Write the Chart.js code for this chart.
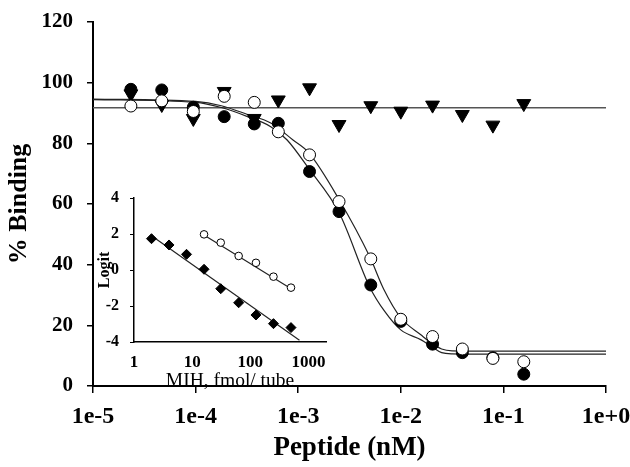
<!DOCTYPE html>
<html>
<head>
<meta charset="utf-8">
<script src="https://cdn.jsdelivr.net/npm/chart.js@4.4.1/dist/chart.umd.min.js"></script>
<style>
  html, body { margin: 0; padding: 0; background: #fff; }
  #wrap { position: relative; width: 630px; height: 467px; }
  #main { position: absolute; left: 0; top: 0; }
  #inset { position: absolute; left: 95px; top: 185px; }
</style>
</head>
<body>
<div id="wrap">
  <canvas id="main" width="630" height="467"></canvas>
  <canvas id="inset" width="240" height="210"></canvas>
</div>
<script>
// Main panel: % binding vs peptide concentration (nM)
const doses = [2.34e-5, 4.68e-5, 9.5e-5, 1.9e-4, 3.73e-4, 6.4e-4, 1.29e-3, 2.5e-3, 5.1e-3, 1.0e-2, 2.04e-2, 3.98e-2, 7.9e-2, 0.158];
const filledBinding = [97.8, 97.6, 91.9, 88.8, 86.4, 86.6, 70.7, 57.5, 33.3, 21.3, 13.8, 11.0, 9.3, 3.9];
const openBinding = [92.3, 94.0, 90.5, 95.5, 93.5, 83.8, 76.2, 60.8, 41.9, 22.0, 16.3, 12.2, 9.1, 8.0];
const triangleBinding = [96.3, 92.8, 88.2, 97.1, 88.2, 94.3, 98.3, 86.2, 92.4, 90.6, 92.6, 89.5, 86.0, 93.1];

// fitted curves
const openCurveX = [1e-5, 1e-4, 1.78e-4, 3.16e-4, 5.4e-4, 8.9e-4, 1.26e-3, 2.5e-3, 5e-3, 6.8e-3, 1e-2, 1.58e-2, 2e-2, 2.5e-2, 3.16e-2, 0.1, 1];
const openCurveY = [94.6, 93.8, 92.4, 89.6, 86.7, 81.1, 77.0, 61.5, 42.5, 32.0, 22.5, 16.8, 14.1, 12.2, 11.6, 11.5, 11.5];
const filledCurveX = [1e-5, 1e-4, 1.78e-4, 3.16e-4, 5.4e-4, 7.8e-4, 1.26e-3, 2.5e-3, 5e-3, 7e-3, 1e-2, 1.58e-2, 2e-2, 2.5e-2, 3.16e-2, 0.1, 1];
const filledCurveY = [94.4, 93.5, 91.8, 88.9, 85.5, 81.1, 71.8, 57.2, 32.5, 24.5, 18.5, 15.2, 13.0, 11.0, 10.6, 10.5, 10.5];
const flatLineX = [1e-5, 1];
const flatLineY = [91.7, 91.7];

const xTickValues = [1e-5, 1e-4, 1e-3, 1e-2, 1e-1, 1];
const xTickLabels = ['1e-5', '1e-4', '1e-3', '1e-2', '1e-1', '1e+0'];

// Inset: logit vs MIH, fmol/tube
const mihFilled = [2, 4, 8, 16, 31, 63, 125, 250, 500];
const logitFilled = [1.74, 1.39, 0.87, 0.04, -1.04, -1.82, -2.5, -2.98, -3.2];
const mihOpen = [16, 31, 63, 125, 250, 500];
const logitOpen = [1.98, 1.52, 0.78, 0.4, -0.37, -0.98];
const fitFilledX = [2, 700];
const fitFilledY = [1.9, -3.9];
const fitOpenX = [14, 520];
const fitOpenY = [2.05, -1.07];
const insetTickValues = [1, 10, 100, 1000];
const insetTickLabels = ['1', '10', '100', '1000'];

const SERIF = "'Liberation Serif', 'Times New Roman', serif";

function pairs(xs, ys) {
  return xs.map((x, i) => ({ x, y: ys[i] }));
}

function markerSet(data, style, radius, fill, rotation) {
  return {
    data,
    showLine: false,
    pointStyle: style,
    pointRadius: radius,
    pointRotation: rotation || 0,
    pointBackgroundColor: fill,
    pointBorderColor: '#000',
    pointBorderWidth: 1,
  };
}

function lineSet(data, color, width, smooth) {
  return {
    data,
    showLine: true,
    borderColor: color,
    borderWidth: width,
    pointRadius: 0,
    cubicInterpolationMode: smooth ? 'monotone' : 'default',
    tension: 0,
  };
}

// pin a scale's box size and drop the label overhang padding
function pinBox(size) {
  return (s) => {
    if (s.isHorizontal()) s.height = size; else s.width = size;
    s.paddingLeft = 0;
    s.paddingRight = 0;
    s.paddingTop = 0;
    s.paddingBottom = 0;
  };
}

Chart.defaults.font.family = SERIF;
Chart.defaults.color = '#000';

new Chart(document.getElementById('main'), {
  type: 'scatter',
  data: {
    datasets: [
      markerSet(pairs(doses, openBinding), 'circle', 6, '#fff'),
      markerSet(pairs(doses, filledBinding), 'circle', 6, '#000'),
      markerSet(pairs(doses, triangleBinding), 'triangle', 8, '#000', 180),
      lineSet(pairs(openCurveX, openCurveY), '#222', 1.2, true),
      lineSet(pairs(filledCurveX, filledCurveY), '#222', 1.2, true),
      lineSet(pairs(flatLineX, flatLineY), '#555', 1.5, false),
    ],
  },
  options: {
    responsive: false,
    devicePixelRatio: 1,
    animation: false,
    events: [],
    layout: { padding: { left: 0, right: 24, top: 22, bottom: 0 } },
    plugins: { legend: { display: false }, tooltip: { enabled: false } },
    scales: {
      x: {
        type: 'logarithmic',
        min: 1e-5,
        max: 1,
        afterBuildTicks: (s) => { s.ticks = xTickValues.map((v) => ({ value: v })); },
        afterFit: pinBox(81),
        ticks: {
          callback: (v, i) => xTickLabels[i],
          font: { size: 24, weight: 'bold' },
          padding: 9,
          maxRotation: 0,
          autoSkip: false,
        },
        grid: { drawOnChartArea: false, drawTicks: true, tickLength: 7, color: '#000', lineWidth: 1.5 },
        border: { display: true, color: '#000', width: 2 },
        title: { display: true, text: 'Peptide (nM)', font: { size: 27, weight: 'bold' }, padding: { top: 0, bottom: 3 } },
      },
      y: {
        min: 0,
        max: 120,
        afterFit: pinBox(93),
        ticks: { stepSize: 20, font: { size: 21, weight: 'bold' }, padding: 14 },
        grid: { drawOnChartArea: false, drawTicks: true, tickLength: 6, color: '#000', lineWidth: 1.5 },
        border: { display: true, color: '#000', width: 2 },
        title: { display: true, text: '% Binding', font: { size: 26, weight: 'bold' }, padding: { top: 4, bottom: 0 } },
      },
    },
  },
});

new Chart(document.getElementById('inset'), {
  type: 'scatter',
  data: {
    datasets: [
      markerSet(pairs(mihOpen, logitOpen), 'circle', 3.8, '#fff'),
      markerSet(pairs(mihFilled, logitFilled), 'rectRot', 5, '#000'),
      lineSet(pairs(fitFilledX, fitFilledY), '#222', 1.2, false),
      lineSet(pairs(fitOpenX, fitOpenY), '#222', 1.2, false),
    ],
  },
  options: {
    responsive: false,
    devicePixelRatio: 1,
    animation: false,
    events: [],
    layout: { padding: { left: 0, right: 9, top: 13, bottom: 0 } },
    plugins: { legend: { display: false }, tooltip: { enabled: false } },
    scales: {
      x: {
        type: 'logarithmic',
        min: 1,
        max: 2000,
        afterBuildTicks: (s) => { s.ticks = insetTickValues.map((v) => ({ value: v })); },
        afterFit: pinBox(53),
        ticks: {
          callback: (v, i) => insetTickLabels[i],
          font: { size: 17, weight: 'bold' },
          padding: 10,
          maxRotation: 0,
          autoSkip: false,
        },
        grid: { display: false, drawTicks: false },
        border: { display: true, color: '#000', width: 1.5 },
        title: { display: true, text: 'MIH, fmol/ tube', font: { size: 19.5 }, padding: { top: 0, bottom: 2 } },
      },
      y: {
        min: -4,
        max: 4,
        afterFit: pinBox(39),
        ticks: { stepSize: 2, font: { size: 16, weight: 'bold' }, padding: 11 },
        grid: { drawOnChartArea: false, drawTicks: true, tickLength: 4, color: '#000', lineWidth: 1 },
        border: { display: true, color: '#000', width: 1.5 },
        title: { display: true, text: 'Logit', font: { size: 16, weight: 'bold' }, padding: { top: 0, bottom: 0 } },
      },
    },
  },
});
</script>
</body>
</html>
